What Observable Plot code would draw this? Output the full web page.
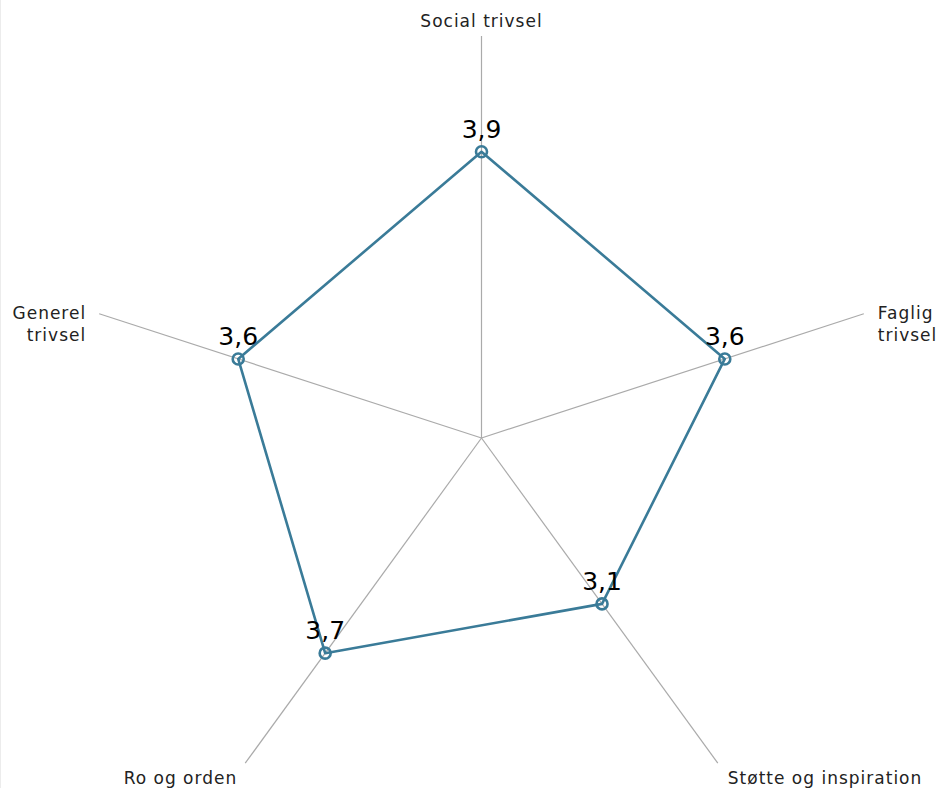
<!DOCTYPE html>
<html><head><meta charset="utf-8">
<script src="https://cdn.jsdelivr.net/npm/d3@7"></script>
<script src="https://cdn.jsdelivr.net/npm/@observablehq/plot@0.6"></script>
<style>
body{margin:0;background:#fff;font-family:"DejaVu Sans",sans-serif}
#edge{position:absolute;left:0;top:0;width:1px;height:788px;background:#ececec}
</style>
</head><body><div id="chart"></div><div id="edge"></div>
<script>
const categories = ["Social trivsel","Faglig trivsel","Støtte og inspiration","Ro og orden","Generel trivsel"];
const axisLabels = ["Social trivsel","Faglig\ntrivsel","Støtte og inspiration","Ro og orden","Generel\ntrivsel"];
const values = [3.9,3.6,3.1,3.7,3.6];
const valueLabels = ["3,9","3,6","3,1","3,7","3,6"];
const scaleMin = 1.08, scaleMax = 5.04;

const W = 940, H = 788, cx = 481, cy = 437.5, R = 402;
const rad = d3.scaleLinear([scaleMin, scaleMax], [0, R]);
const n = categories.length;
const ang = i => i * 2 * Math.PI / n;
const pts = values.map((v, i) => ({cat: categories[i], x: rad(v) * Math.sin(ang(i)), y: rad(v) * Math.cos(ang(i)), label: valueLabels[i]}));
const axes = categories.map((c, i) => ({cat: c, x2: R * Math.sin(ang(i)), y2: R * Math.cos(ang(i)), text: axisLabels[i], s: Math.sin(ang(i)), c: Math.cos(ang(i))}));
const col = "#3a7b98";

const labelMarks = axes.map(a => {
  const anchor = a.s > 0.1 ? "start" : a.s < -0.1 ? "end" : "middle";
  const dx = a.s > 0.1 ? (a.c < 0 ? 10 : 14) : a.s < -0.1 ? (a.c < 0 ? -8 : -13) : 0;
  const dy = a.c > 0.9 ? -16 : a.c > 0 ? 9 : 14;
  return Plot.text([a], {x: "x2", y: "y2", text: "text", textAnchor: anchor, lineAnchor: "middle", dx, dy,
    fontSize: 17, lineHeight: 1.3, fill: "#222", fontFamily: "DejaVu Sans"});
});

const chart = Plot.plot({
  width: W, height: H,
  marginTop: 0, marginRight: 0, marginBottom: 0, marginLeft: 0,
  x: {domain: [-cx, W - cx], range: [0, W], axis: null},
  y: {domain: [-(H - cy), cy], range: [H, 0], axis: null},
  style: {fontFamily: "DejaVu Sans", background: "transparent"},
  marks: [
    Plot.link(axes, {x1: () => 0, y1: () => 0, x2: "x2", y2: "y2", stroke: "#aaaaaa", strokeWidth: 1.2}),
    Plot.line(pts, {x: "x", y: "y", curve: "linear-closed", stroke: col, strokeWidth: 2.6}),
    Plot.dot(pts, {x: "x", y: "y", r: 5.5, stroke: col, strokeWidth: 2.6, fill: "none"}),
    Plot.text(pts, {x: "x", y: "y", text: "label", dy: -22, fontSize: 25, fill: "#000", fontFamily: "DejaVu Sans"}),
    ...labelMarks
  ]
});
d3.select(chart).selectAll('g[aria-label="text"]').filter((d, i) => i > 0).style("letter-spacing", "1px");
document.getElementById("chart").appendChild(chart);
</script>
</body></html>
